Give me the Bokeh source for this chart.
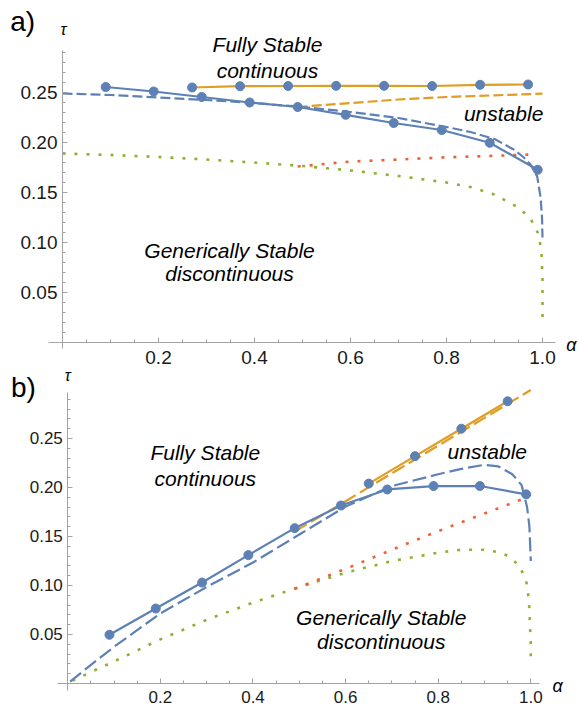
from bokeh.plotting import figure
from bokeh.models import Range1d, FixedTicker, PrintfTickFormatter, Label, LinearAxis
from bokeh.embed import file_html
from bokeh.resources import INLINE

# ---------------- panel a) data ----------------
a_blue_pts_alpha = [0.09, 0.19, 0.29, 0.39, 0.49, 0.59, 0.69, 0.79, 0.89, 0.99]
a_blue_pts_tau = [0.2555, 0.251, 0.2455, 0.2400, 0.2355, 0.2277, 0.2195, 0.2125, 0.1997, 0.1727]

a_orange_pts_alpha = [0.27, 0.37, 0.47, 0.57, 0.67, 0.77, 0.87, 0.97]
a_orange_pts_tau = [0.255, 0.2563, 0.2565, 0.2567, 0.2567, 0.2565, 0.2577, 0.258]

a_blue_dash_alpha = [0.0, 0.1, 0.2, 0.3, 0.4, 0.5, 0.6, 0.7, 0.8, 0.85, 0.9, 0.94, 0.96,
                     0.975, 0.989, 0.996, 0.999, 1.0]
a_blue_dash_tau = [0.249, 0.2475, 0.245, 0.2425, 0.2395, 0.2355, 0.2305, 0.2245, 0.2155,
                   0.2105, 0.2035, 0.193, 0.1855, 0.178, 0.166, 0.145, 0.125, 0.105]

a_orange_dash_alpha = [0.49, 0.6, 0.7, 0.8, 0.9, 1.0]
a_orange_dash_tau = [0.2355, 0.2395, 0.243, 0.2455, 0.2472, 0.2488]

a_red_dot_alpha = [0.49, 0.6, 0.7, 0.8, 0.9, 0.975]
a_red_dot_tau = [0.176, 0.181, 0.183, 0.1852, 0.1867, 0.188]

a_green_dot_alpha = [0.0, 0.1, 0.2, 0.3, 0.4, 0.5, 0.6, 0.7, 0.8, 0.85, 0.9, 0.95, 0.975,
                     0.99, 0.995, 0.998, 1.0, 1.0]
a_green_dot_tau = [0.189, 0.1875, 0.1855, 0.183, 0.180, 0.1765, 0.172, 0.1665, 0.160,
                   0.1555, 0.148, 0.135, 0.124, 0.110, 0.099, 0.088, 0.065, 0.024]

# ---------------- panel b) data ----------------
b_blue_pts_alpha = [0.09, 0.19, 0.29, 0.39, 0.49, 0.59, 0.69, 0.79, 0.89, 0.99]
b_blue_pts_tau = [0.0497, 0.0765, 0.103, 0.131, 0.1585, 0.1816, 0.198, 0.2015, 0.2015, 0.193]

b_orange_pts_alpha = [0.65, 0.75, 0.85, 0.95]
b_orange_pts_tau = [0.204, 0.232, 0.260, 0.288]

b_blue_dash_alpha = [0.005, 0.05, 0.1, 0.2, 0.3, 0.4, 0.5, 0.6, 0.7, 0.8, 0.85, 0.9, 0.93,
                     0.96, 0.98, 0.992, 0.997, 1.0]
b_blue_dash_tau = [0.002, 0.019, 0.0375, 0.0715, 0.0985, 0.1235, 0.152, 0.1805, 0.2015,
                   0.2135, 0.219, 0.2232, 0.2215, 0.2135, 0.2025, 0.18, 0.16, 0.125]

b_orange_dash_alpha = [0.49, 0.6, 0.7, 0.8, 0.9, 1.0]
b_orange_dash_tau = [0.155, 0.186, 0.2145, 0.2428, 0.271, 0.2995]

b_red_dot_alpha = [0.49, 0.6, 0.7, 0.8, 0.9, 0.99]
b_red_dot_tau = [0.0965, 0.117, 0.1365, 0.1555, 0.1735, 0.1895]

b_green_dot_alpha = [0.01, 0.1, 0.2, 0.3, 0.4, 0.5, 0.6, 0.7, 0.8, 0.85, 0.9, 0.93, 0.95,
                     0.975, 0.99, 0.996, 0.998, 1.0, 1.0]
b_green_dot_tau = [0.003, 0.0225, 0.045, 0.065, 0.0825, 0.0985, 0.113, 0.125, 0.1335,
                   0.1365, 0.1365, 0.134, 0.1305, 0.1205, 0.105, 0.085, 0.062, 0.04, 0.02]

# ---------------- ticks ----------------
x_major_ticks = [0.2, 0.4, 0.6, 0.8, 1.0]
x_minor_ticks = [0.05, 0.1, 0.15, 0.25, 0.3, 0.35, 0.45, 0.5, 0.55, 0.65, 0.7, 0.75,
                 0.85, 0.9, 0.95]
y_major_ticks = [0.05, 0.10, 0.15, 0.20, 0.25]
y_minor_ticks = [0.01, 0.02, 0.03, 0.04, 0.06, 0.07, 0.08, 0.09, 0.11, 0.12, 0.13, 0.14,
                 0.16, 0.17, 0.18, 0.19, 0.21, 0.22, 0.23, 0.24, 0.26, 0.27, 0.28, 0.29]

BLUE = "#5E81B5"
ORANGE = "#E19C24"
GREEN = "#8FB032"
RED = "#EB6235"
AXIS = "#a3a3a3"
FONT = "Liberation Sans"

# one canvas holding both panels; each panel has its own ranges and axes
p = figure(width=579, height=709, output_backend="svg", toolbar_location=None,
           x_range=Range1d(-0.129167, 1.077083), y_range=Range1d(-0.367, 0.342),
           x_axis_type=None, y_axis_type=None, min_border=0)
p.extra_x_ranges = {"xb": Range1d(-0.145356, 1.105184)}
p.extra_y_ranges = {"yb": Range1d(-0.026531, 0.696939)}
p.outline_line_color = None


def make_axis(side, fs, bounds, standoff, xr="default", yr="default"):
    if side == "below":
        ticker = FixedTicker(ticks=x_major_ticks, minor_ticks=x_minor_ticks)
        fmt = PrintfTickFormatter(format="%.1f")
    else:
        ticker = FixedTicker(ticks=y_major_ticks, minor_ticks=y_minor_ticks)
        fmt = PrintfTickFormatter(format="%.2f")
    ax = LinearAxis(fixed_location=0, bounds=bounds, x_range_name=xr, y_range_name=yr,
                    ticker=ticker, formatter=fmt)
    ax.axis_line_color = AXIS
    ax.axis_line_width = 1
    ax.major_tick_line_color = AXIS
    ax.minor_tick_line_color = AXIS
    ax.major_tick_in = 5
    ax.major_tick_out = 0
    ax.minor_tick_in = 3
    ax.minor_tick_out = 0
    ax.major_label_text_font = FONT
    ax.major_label_text_font_size = fs
    ax.major_label_text_color = "#1a1a1a"
    ax.major_label_standoff = standoff
    p.add_layout(ax, side)


def text(x, y, s, size="21px", style_="italic", xr="default", yr="default"):
    p.add_layout(Label(x=x, y=y, text=s, text_font=FONT, text_font_size=size,
                       text_font_style=style_, text_align="center",
                       text_baseline="middle", text_color="black",
                       x_range_name=xr, y_range_name=yr))


def draw(dash, bd_a, bd_t, od_a, od_t, rd_a, rd_t, gd_a, gd_t, bp_a, bp_t, op_a, op_t,
         xr="default", yr="default"):
    kw = dict(x_range_name=xr, y_range_name=yr)
    p.line(gd_a, gd_t, line_color=GREEN, line_width=2.6, line_dash="3 9", **kw)
    p.line(rd_a, rd_t, line_color=RED, line_width=2.6, line_dash="3 9", **kw)
    p.line(od_a, od_t, line_color=ORANGE, line_width=2.2, line_dash=dash, **kw)
    p.line(bd_a, bd_t, line_color=BLUE, line_width=2.2, line_dash=dash, **kw)
    p.line(op_a, op_t, line_color=ORANGE, line_width=2.2, **kw)
    p.line(bp_a, bp_t, line_color=BLUE, line_width=2.2, **kw)
    p.scatter(op_a, op_t, size=9, marker="circle", fill_color=BLUE, line_color=BLUE, **kw)
    p.scatter(bp_a, bp_t, size=9, marker="circle", fill_color=BLUE, line_color=BLUE, **kw)


# ---------------- panel a ----------------
make_axis("below", "19px", (-0.029, 1.027), 8)
make_axis("left", "19px", (-0.006, 0.292), 5)
draw("10 4", a_blue_dash_alpha, a_blue_dash_tau, a_orange_dash_alpha, a_orange_dash_tau,
     a_red_dot_alpha, a_red_dot_tau, a_green_dot_alpha, a_green_dot_tau,
     a_blue_pts_alpha, a_blue_pts_tau, a_orange_pts_alpha, a_orange_pts_tau)
text(-0.083, 0.321, "a)", size="28px", style_="normal")
text(0.002, 0.313, "τ", size="16px")
text(1.0604, -0.002, "α", size="18px")
text(0.427, 0.298, "Fully Stable")
text(0.427, 0.272, "continuous")
text(0.919, 0.229, "unstable")
text(0.348, 0.092, "Generically Stable")
text(0.348, 0.069, "discontinuous")

# ---------------- panel b ----------------
make_axis("below", "17px", (-0.022, 1.018), 8, "xb", "yb")
make_axis("left", "17px", (-0.007, 0.297), 5, "xb", "yb")
draw("14 5", b_blue_dash_alpha, b_blue_dash_tau, b_orange_dash_alpha, b_orange_dash_tau,
     b_red_dot_alpha, b_red_dot_tau, b_green_dot_alpha, b_green_dot_tau,
     b_blue_pts_alpha, b_blue_pts_tau, b_orange_pts_alpha, b_orange_pts_tau,
     xr="xb", yr="yb")
text(-0.096, 0.302, "b)", size="28px", style_="normal", xr="xb", yr="yb")
text(0.0, 0.314, "τ", size="16px", xr="xb", yr="yb")
text(1.058, -0.003, "α", size="18px", xr="xb", yr="yb")
text(0.297, 0.2357, "Fully Stable", xr="xb", yr="yb")
text(0.297, 0.209, "continuous", xr="xb", yr="yb")
text(0.906, 0.237, "unstable", xr="xb", yr="yb")
text(0.677, 0.067, "Generically Stable", xr="xb", yr="yb")
text(0.677, 0.043, "discontinuous", xr="xb", yr="yb")

open("out.html", "w").write(file_html(p, INLINE))
